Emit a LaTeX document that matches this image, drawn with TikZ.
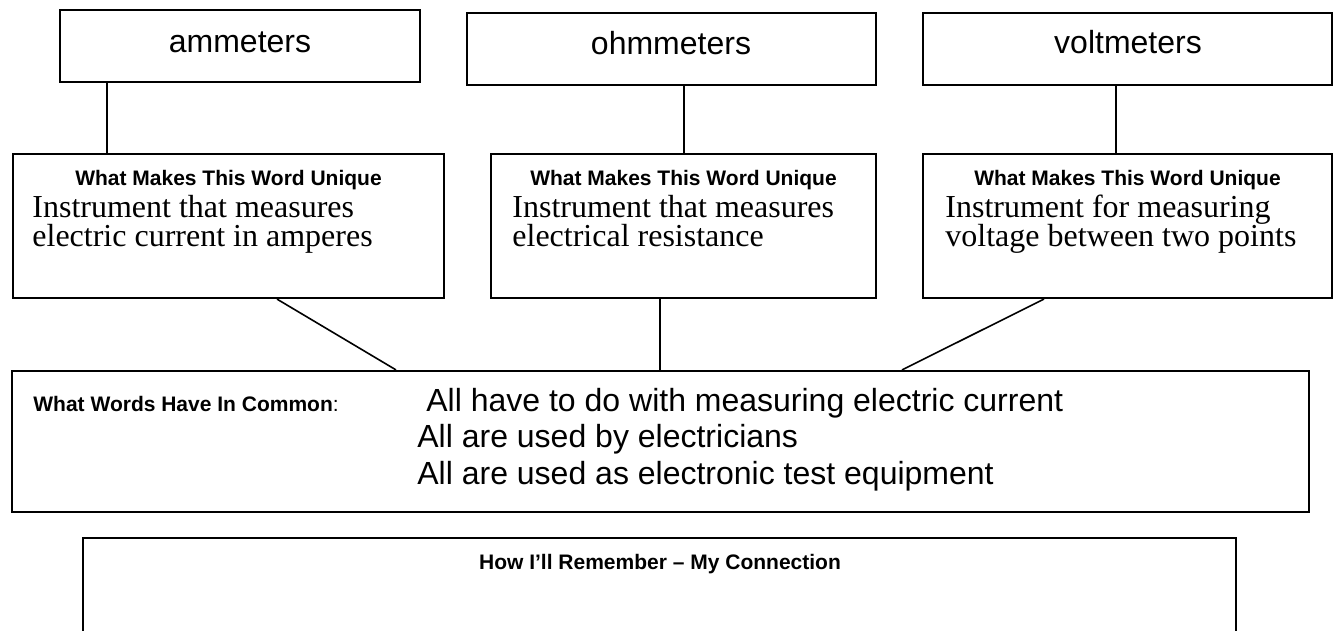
\documentclass[tikz,border=0pt]{standalone}
\usepackage{fontspec}
\setmainfont{Liberation Serif}
\setsansfont{Liberation Sans}
\usetikzlibrary{fit}
\setlength{\lineskiplimit}{-20pt}

\tikzset{
  box/.style={draw, line width=1.1pt, inner sep=0pt},
  link/.style={line width=0.8pt},
  word/.style={font=\sffamily\fontsize{16}{18}\selectfont, inner sep=0pt, anchor=base},
  head/.style={font=\sffamily\bfseries\fontsize{10.5}{12}\selectfont, inner sep=0pt, anchor=base},
  desc/.style={font=\rmfamily\fontsize{16}{14.5}\selectfont, align=left, inner sep=0pt, anchor=base west},
  line/.style={font=\sffamily\fontsize{16}{18}\selectfont, inner sep=0pt, anchor=base west},
}

\begin{document}
\begin{tikzpicture}[x=0.5pt,y=-0.5pt]
\useasboundingbox (0,0) rectangle (1335,631);
\clip (0,0) rectangle (1335,631);
% the three words
\node[box, fit={(60,10) (420,82)}] (am) {};
\node[box, fit={(467,13) (876,85)}] (ohm) {};
\node[box, fit={(923,13) (1332,85)}] (volt) {};
\node[word] (amT) at (240,53) {ammeters};
\node[word] (ohmT) at (671,55) {ohmmeters};
\node[word] (voltT) at (1128,54) {voltmeters};
% what makes each unique
\node[box, fit={(13,154) (444,298)}] (amU) {};
\node[box, fit={(491,154) (876,298)}] (ohmU) {};
\node[box, fit={(923,154) (1332,298)}] (voltU) {};
\node[head] (amH) at (228.5,185) {What Makes This Word Unique};
\node[head] (ohmH) at (683.5,185) {What Makes This Word Unique};
\node[head] (voltH) at (1127.5,185) {What Makes This Word Unique};
\node[desc] (amD) at (32,247) {Instrument that measures\\electric current in amperes};
\node[desc] (ohmD) at (512,247) {Instrument that measures\\electrical resistance};
\node[desc] (voltD) at (945,247) {Instrument for measuring\\voltage between two points};
% in common
\node[box, fit={(12,371) (1309,512)}] (com) {};
\node[head, anchor=base west] (comH) at (33,411) {What Words Have In Common\mdseries:};
\node[line] (com1) at (426,411) {All have to do with measuring electric current};
\node[line] (com2) at (417,447) {All are used by electricians};
\node[line] (com3) at (417,484) {All are used as electronic test equipment};
% my connection
\node[box, fit={(83,538) (1236,700)}] (mem) {};
\node[head] (memH) at (660,569) {How I’ll Remember – My Connection};
% connectors
\coordinate (c1) at (107,0);
\coordinate (c2) at (684,0);
\coordinate (c3) at (1116,0);
\coordinate (d1) at (277,0);
\coordinate (e1) at (396,0);
\coordinate (d2) at (660,0);
\coordinate (d3) at (1044,0);
\coordinate (e3) at (902,0);
\draw[link] (am.south -| c1) -- (amU.north -| c1);
\draw[link] (ohm.south -| c2) -- (ohmU.north -| c2);
\draw[link] (volt.south -| c3) -- (voltU.north -| c3);
\draw[link] (amU.south -| d1) -- (com.north -| e1);
\draw[link] (ohmU.south -| d2) -- (com.north -| d2);
\draw[link] (voltU.south -| d3) -- (com.north -| e3);
\end{tikzpicture}
\end{document}
